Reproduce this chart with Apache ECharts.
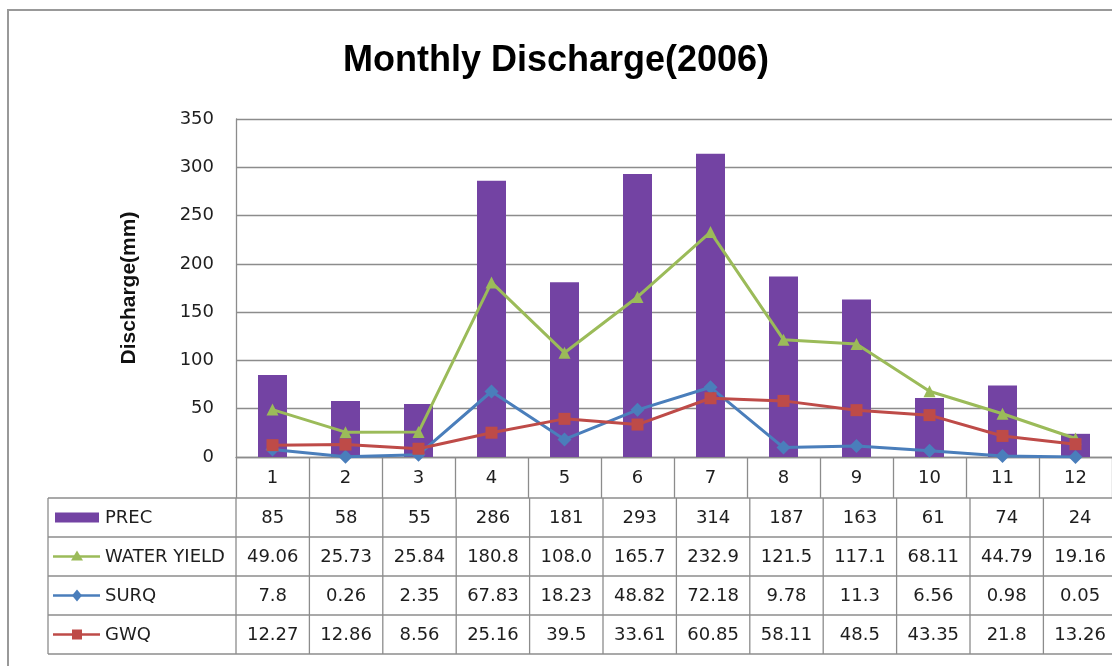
<!DOCTYPE html>
<html>
<head>
<meta charset="utf-8">
<title>Monthly Discharge(2006)</title>
<script src="https://cdn.jsdelivr.net/npm/echarts@6/dist/echarts.min.js"></script>
<style>
  html, body { margin: 0; padding: 0; background: #fff; }
  #chart { width: 1112px; height: 666px; }
</style>
</head>
<body>
<div id="chart"></div>
<script>
// data
const months = ['1', '2', '3', '4', '5', '6', '7', '8', '9', '10', '11', '12'];
const prec = [85, 58, 55, 286, 181, 293, 314, 187, 163, 61, 74, 24];
const waterYield = [49.06, 25.73, 25.84, 180.8, 108.0, 165.7, 232.9, 121.5, 117.1, 68.11, 44.79, 19.16];
const surq = [7.8, 0.26, 2.35, 67.83, 18.23, 48.82, 72.18, 9.78, 11.3, 6.56, 0.98, 0.05];
const gwq = [12.27, 12.86, 8.56, 25.16, 39.5, 33.61, 60.85, 58.11, 48.5, 43.35, 21.8, 13.26];
const yTicks = [0, 50, 100, 150, 200, 250, 300, 350];

const COLORS = {
  prec: '#7343a3',
  water: '#9bbb59',
  surq: '#4a7ebb',
  gwq: '#be4b48',
  grid: '#8c8c8c',
  text: '#1e1e1e'
};

// layout
const gridLeft = 236, gridTop = 119, gridH = 338, catW = 73.4;
const gridW = catW * months.length;
const tableLeft = 48;
const rowTop = gridTop + gridH + 41;   // first data row starts below the month labels
const rowH = 39;
const FONT = '18px "DejaVu Sans"';

const chart = echarts.init(document.getElementById('chart'));

const rows = [
  { name: 'PREC', values: prec, key: 'bar', color: COLORS.prec, fmt: v => String(v) },
  { name: 'WATER YIELD', values: waterYield, key: 'triangle', color: COLORS.water, fmt: v => v.toPrecision(4) },
  { name: 'SURQ', values: surq, key: 'diamond', color: COLORS.surq, fmt: v => String(v) },
  { name: 'GWQ', values: gwq, key: 'square', color: COLORS.gwq, fmt: v => String(v) }
];

function keyMarker(kind, cx, cy, color) {
  if (kind === 'triangle') {
    return { type: 'polygon', shape: { points: [[cx, cy - 6], [cx + 6, cy + 4], [cx - 6, cy + 4]] }, style: { fill: color } };
  }
  if (kind === 'diamond') {
    return { type: 'polygon', shape: { points: [[cx, cy - 6], [cx + 5, cy], [cx, cy + 6], [cx - 5, cy]] }, style: { fill: color } };
  }
  return { type: 'rect', shape: { x: cx - 5, y: cy - 5, width: 10, height: 10 }, style: { fill: color } };
}

function buildTable() {
  const els = [];
  const right = gridLeft + gridW + 10;
  const bottom = rowTop + rowH * rows.length;
  const line = (x1, y1, x2, y2) => ({
    type: 'line', shape: { x1, y1, x2, y2 }, style: { stroke: COLORS.grid, lineWidth: 1.3 }, z: 5
  });
  // horizontal rules
  for (let r = 0; r <= rows.length; r++) {
    els.push(line(tableLeft, rowTop + r * rowH, right, rowTop + r * rowH));
  }
  // vertical rules
  els.push(line(tableLeft, rowTop, tableLeft, bottom));
  for (let c = 0; c <= months.length; c++) {
    const x = gridLeft + c * catW;
    els.push(line(x, rowTop, x, bottom));
  }
  rows.forEach((row, r) => {
    const cy = rowTop + r * rowH + rowH / 2;
    // legend key
    if (row.key === 'bar') {
      els.push({ type: 'rect', shape: { x: 55, y: cy - 5, width: 44, height: 10 }, style: { fill: row.color }, z: 6 });
    } else {
      els.push({ type: 'line', shape: { x1: 53, y1: cy, x2: 100, y2: cy }, style: { stroke: row.color, lineWidth: 2.5 }, z: 6 });
      els.push(Object.assign(keyMarker(row.key, 77, cy, row.color), { z: 7 }));
    }
    els.push({
      type: 'text', x: 105, y: cy + 1, z: 6,
      style: { text: row.name, font: FONT, fill: COLORS.text, align: 'left', verticalAlign: 'middle' }
    });
    row.values.forEach((v, i) => {
      els.push({
        type: 'text', x: gridLeft + (i + 0.5) * catW, y: cy + 1, z: 6,
        style: { text: row.fmt(v), font: FONT, fill: COLORS.text, align: 'center', verticalAlign: 'middle' }
      });
    });
  });
  // outer frame of the chart area
  els.push({
    type: 'rect', shape: { x: 8, y: 10, width: 1200, height: 700 },
    style: { fill: null, stroke: '#999', lineWidth: 2 }, z: 1
  });
  return els;
}

const option = {
  backgroundColor: '#fff',
  animation: false,
  title: {
    text: 'Monthly Discharge(2006)',
    left: 'center',
    top: 38,
    textStyle: {
      fontFamily: '"Liberation Sans"',
      fontWeight: 'bold',
      fontSize: 36,
      color: '#000'
    }
  },
  grid: { left: gridLeft, top: gridTop, width: gridW, height: gridH },
  xAxis: {
    type: 'category',
    data: months,
    axisLine: { lineStyle: { color: COLORS.grid, width: 1.3 } },
    axisTick: { show: true, length: 41, interval: 0, lineStyle: { color: COLORS.grid, width: 1.3 } },
    axisLabel: { fontFamily: 'DejaVu Sans', fontSize: 18, color: COLORS.text, margin: 12, interval: 0 }
  },
  yAxis: {
    type: 'value',
    min: yTicks[0],
    max: yTicks[yTicks.length - 1],
    interval: yTicks[1] - yTicks[0],
    name: 'Discharge(mm)',
    nameLocation: 'middle',
    nameRotate: 90,
    nameGap: 96,
    nameTextStyle: { fontFamily: '"Liberation Sans"', fontWeight: 'bold', fontSize: 21, color: '#111' },
    axisLine: { show: true, lineStyle: { color: COLORS.grid, width: 1.3 } },
    axisTick: { show: false },
    axisLabel: { fontFamily: 'DejaVu Sans', fontSize: 18, color: COLORS.text, margin: 22 },
    splitLine: { lineStyle: { color: COLORS.grid, width: 1.3 } }
  },
  series: [
    {
      name: 'PREC',
      type: 'bar',
      data: prec,
      barWidth: 29,
      itemStyle: { color: COLORS.prec }
    },
    {
      name: 'WATER YIELD',
      type: 'line',
      data: waterYield,
      symbol: 'triangle',
      symbolSize: 12,
      lineStyle: { color: COLORS.water, width: 3 },
      itemStyle: { color: COLORS.water }
    },
    {
      name: 'SURQ',
      type: 'line',
      data: surq,
      symbol: 'diamond',
      symbolSize: 14,
      lineStyle: { color: COLORS.surq, width: 3 },
      itemStyle: { color: COLORS.surq }
    },
    {
      name: 'GWQ',
      type: 'line',
      data: gwq,
      symbol: 'rect',
      symbolSize: 12,
      lineStyle: { color: COLORS.gwq, width: 3 },
      itemStyle: { color: COLORS.gwq }
    }
  ],
  graphic: buildTable()
};

chart.setOption(option);
</script>
</body>
</html>
